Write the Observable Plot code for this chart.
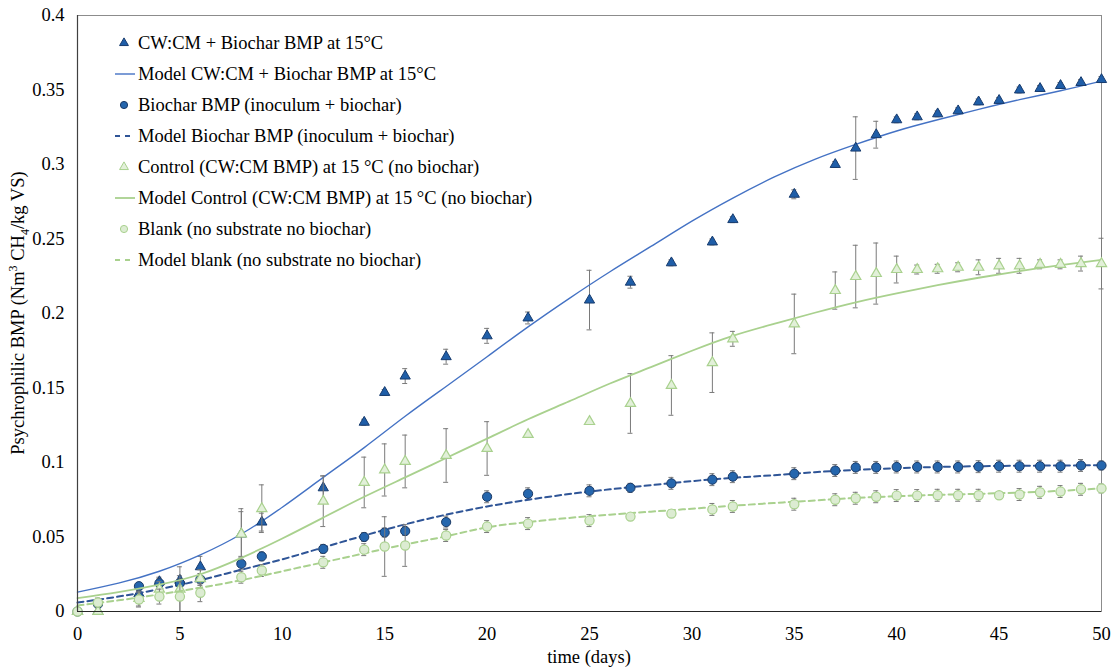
<!DOCTYPE html>
<html>
<head>
<meta charset="utf-8">
<script src="https://cdn.jsdelivr.net/npm/d3@7"></script>
<script src="https://cdn.jsdelivr.net/npm/@observablehq/plot@0.6"></script>
<style>
  body { margin: 0; background: #fff; }
  #chart { position: relative; width: 1119px; height: 670px; font-family: "Liberation Serif", "Times New Roman", serif; }
  #overlay { position: absolute; left: 0; top: 0; pointer-events: none; }
</style>
</head>
<body>
<div id="chart"></div>
<script>
// Sampling days (days of incubation)
const days = [0, 1, 3, 4, 5, 6, 8, 9, 12, 14, 15, 16, 18, 20, 22, 25, 27, 29, 31, 32, 35, 37, 38, 39, 40, 41, 42, 43, 44, 45, 46, 47, 48, 49, 50];

// CW:CM + Biochar BMP at 15°C (Nm3 CH4/kg VS) and standard deviation
const biocharDigest = [0, 0, 0.012, 0.020, 0.021, 0.030, 0.052, 0.060, 0.083, 0.127, 0.147, 0.158, 0.171, 0.185, 0.197, 0.209, 0.221, 0.234, 0.248, 0.263, 0.280, 0.300, 0.311, 0.320, 0.330, 0.332, 0.334, 0.336, 0.342, 0.343, 0.350, 0.351, 0.353, 0.355, 0.357];
const biocharDigestSd = [0, 0, 0.002, 0.003, 0.003, 0.007, 0.015, 0.006, 0.008, 0.002, 0.002, 0.005, 0.005, 0.005, 0.004, 0.020, 0.004, 0.002, 0.002, 0.002, 0.003, 0.002, 0.021, 0.009, 0.002, 0.002, 0.002, 0.002, 0.002, 0.002, 0.002, 0.002, 0.002, 0.002, 0.002];

// Biochar BMP (inoculum + biochar)
const biocharOnly = [0, 0.005, 0.017, 0.019, 0.019, 0.0215, 0.032, 0.037, 0.042, 0.050, 0.053, 0.054, 0.060, 0.077, 0.079, 0.081, 0.083, 0.086, 0.0885, 0.0905, 0.0925, 0.0946, 0.0967, 0.0967, 0.097, 0.097, 0.097, 0.097, 0.0972, 0.0975, 0.0975, 0.0975, 0.0975, 0.098, 0.098];
const biocharOnlySd = [0, 0.001, 0.002, 0.003, 0.003, 0.004, 0.004, 0.003, 0.003, 0.003, 0.003, 0.003, 0.004, 0.004, 0.004, 0.004, 0.003, 0.004, 0.004, 0.004, 0.004, 0.004, 0.004, 0.004, 0.004, 0.004, 0.004, 0.004, 0.004, 0.004, 0.004, 0.004, 0.004, 0.004, 0.003];

// Control (CW:CM BMP) at 15 °C (no biochar)
const control = [0, 0, 0.0087, 0.015, 0.015, 0.022, 0.052, 0.069, 0.074, 0.0866, 0.095, 0.1007, 0.1047, 0.1094, 0.1188, 0.1275, 0.1396, 0.1517, 0.167, 0.183, 0.193, 0.2154, 0.2248, 0.2268, 0.2295, 0.2295, 0.230, 0.231, 0.231, 0.232, 0.232, 0.233, 0.233, 0.2335, 0.2335];
const controlSd = [0, 0, 0.005, 0.005, 0.015, 0.006, 0.017, 0.016, 0.017, 0.017, 0.0175, 0.0177, 0.018, 0.018, 0, 0, 0.020, 0.020, 0.020, 0.005, 0.020, 0.0125, 0.021, 0.0205, 0.009, 0.003, 0.003, 0.003, 0.005, 0.005, 0.005, 0.003, 0.003, 0.005, 0.017];

// Blank (no substrate no biochar)
const blank = [0, 0.006, 0.008, 0.010, 0.010, 0.0126, 0.023, 0.0275, 0.033, 0.0415, 0.0436, 0.0443, 0.051, 0.057, 0.059, 0.061, 0.0637, 0.0657, 0.0685, 0.0705, 0.072, 0.075, 0.076, 0.077, 0.0778, 0.0778, 0.078, 0.078, 0.078, 0.078, 0.0785, 0.080, 0.0805, 0.082, 0.0826];
const blankSd = [0, 0.003, 0.005, 0.005, 0.010, 0.006, 0.004, 0.004, 0.004, 0.004, 0.020, 0.014, 0.004, 0.004, 0.004, 0.004, 0.002, 0.002, 0.004, 0.004, 0.004, 0.004, 0.004, 0.004, 0.004, 0.004, 0.004, 0.004, 0.004, 0.002, 0.004, 0.004, 0.004, 0.004, 0.003];

// Fitted model curves, sampled every 2 days
const modelDays = [0, 2, 4, 6, 8, 10, 12, 14, 16, 18, 20, 22, 24, 26, 28, 30, 32, 34, 36, 38, 40, 42, 44, 46, 48, 50];
const modelBiocharDigest = [0.013, 0.019, 0.027, 0.038, 0.052, 0.070, 0.090, 0.110, 0.131, 0.151, 0.171, 0.191, 0.210, 0.228, 0.245, 0.262, 0.2775, 0.2915, 0.3035, 0.3135, 0.3225, 0.330, 0.337, 0.3435, 0.3495, 0.356];
const modelBiocharOnly = [0.006, 0.010, 0.015, 0.021, 0.028, 0.035, 0.043, 0.051, 0.0585, 0.065, 0.0705, 0.075, 0.0788, 0.082, 0.0848, 0.0875, 0.0897, 0.0915, 0.0935, 0.095, 0.0962, 0.097, 0.0975, 0.0978, 0.098, 0.0982];
const modelControl = [0.009, 0.013, 0.018, 0.025, 0.036, 0.049, 0.063, 0.077, 0.090, 0.103, 0.116, 0.129, 0.141, 0.153, 0.164, 0.175, 0.185, 0.193, 0.2005, 0.2075, 0.2135, 0.219, 0.224, 0.2285, 0.2325, 0.236];
const modelBlank = [0.004, 0.0075, 0.0115, 0.016, 0.021, 0.027, 0.033, 0.039, 0.045, 0.0505, 0.0565, 0.060, 0.0628, 0.065, 0.067, 0.069, 0.071, 0.0728, 0.0745, 0.0762, 0.0774, 0.0783, 0.079, 0.0798, 0.081, 0.0826];

// Axis ticks
const xTicks = [0, 5, 10, 15, 20, 25, 30, 35, 40, 45, 50];
const yTicks = [0, 0.05, 0.1, 0.15, 0.2, 0.25, 0.3, 0.35, 0.4];
const yTickLabels = ["0", "0.05", "0.1", "0.15", "0.2", "0.25", "0.3", "0.35", "0.4"];

// Legend entries
const legendLabels = [
  "CW:CM + Biochar BMP at 15°C",
  "Model CW:CM + Biochar BMP at 15°C",
  "Biochar BMP (inoculum + biochar)",
  "Model Biochar BMP (inoculum + biochar)",
  "Control (CW:CM BMP) at 15 °C (no biochar)",
  "Model Control (CW:CM BMP) at 15 °C (no biochar)",
  "Blank (no substrate no biochar)",
  "Model blank (no substrate no biochar)"
];

// Styling
const C = {
  triFill: "#1f5ea8", triStroke: "#173b6e",
  blueLine: "#4472c4",
  circFill: "#2566ad", circStroke: "#1b3a66",
  blueDash: "#2f5597",
  greenTriFill: "#e2f0d9", greenStroke: "#a9d18e",
  greenLine: "#a9d18e",
  blankFill: "#dcecd2",
  err: "#7a7a7a"
};

const toRows = (vals, sds) => days.map((d, i) => ({day: d, value: vals[i], sd: sds[i]}));
const toModel = (vals) => modelDays.map((d, i) => ({day: d, value: vals[i]}));

const sBiocharDigest = toRows(biocharDigest, biocharDigestSd);
const sBiocharOnly = toRows(biocharOnly, biocharOnlySd);
const sControl = toRows(control, controlSd);
const sBlank = toRows(blank, blankSd);

function errorBars(rows) {
  const withSd = rows.filter(d => d.sd > 0);
  return [
    Plot.ruleX(withSd, {x: "day", y1: d => d.value - d.sd, y2: d => d.value + d.sd, stroke: C.err, strokeWidth: 1}),
    Plot.ruleY(withSd, {y: d => d.value + d.sd, x1: "day", x2: "day", insetLeft: -2.5, insetRight: -2.5, stroke: C.err, strokeWidth: 1}),
    Plot.ruleY(withSd, {y: d => d.value - d.sd, x1: "day", x2: "day", insetLeft: -2.5, insetRight: -2.5, stroke: C.err, strokeWidth: 1})
  ];
}

const chart = Plot.plot({
  width: 1119,
  height: 670,
  marginLeft: 77,
  marginRight: 18,
  marginTop: 15,
  marginBottom: 59,
  style: {fontFamily: '"Liberation Serif", "Times New Roman", serif', fontSize: "18.5px", color: "#000", background: "#fff"},
  x: {domain: [0, 50]},
  y: {domain: [0, 0.4]},
  marks: [
    Plot.frame({stroke: "#8c8c8c", strokeWidth: 1}),
    Plot.axisX({ticks: xTicks, tickSize: 0, tickPadding: 15, label: null, tickFormat: d => String(d)}),
    Plot.axisY({ticks: yTicks, tickSize: 0, tickPadding: 13, label: null, tickFormat: (d, i) => yTickLabels[i]}),

    // CW:CM + biochar
    ...errorBars(sBiocharDigest),
    Plot.line(toModel(modelBiocharDigest), {x: "day", y: "value", stroke: C.blueLine, strokeWidth: 1.4, curve: "natural"}),
    Plot.dot(sBiocharDigest, {x: "day", y: "value", symbol: "triangle", r: 3.8, fill: C.triFill, stroke: C.triStroke, strokeWidth: 1}),

    // Biochar only
    ...errorBars(sBiocharOnly),
    Plot.line(toModel(modelBiocharOnly), {x: "day", y: "value", stroke: C.blueDash, strokeWidth: 2, strokeDasharray: "6,4", curve: "natural"}),
    Plot.dot(sBiocharOnly, {x: "day", y: "value", symbol: "circle", r: 4.6, fill: C.circFill, stroke: C.circStroke, strokeWidth: 1}),

    // Control
    ...errorBars(sControl),
    Plot.line(toModel(modelControl), {x: "day", y: "value", stroke: C.greenLine, strokeWidth: 1.8, curve: "natural"}),
    Plot.dot(sControl, {x: "day", y: "value", symbol: "triangle", r: 3.8, fill: C.greenTriFill, stroke: C.greenStroke, strokeWidth: 1.2}),

    // Blank
    ...errorBars(sBlank),
    Plot.line(toModel(modelBlank), {x: "day", y: "value", stroke: C.greenLine, strokeWidth: 2, strokeDasharray: "6,4", curve: "natural"}),
    Plot.dot(sBlank, {x: "day", y: "value", symbol: "circle", r: 4.6, fill: C.blankFill, stroke: C.greenStroke, strokeWidth: 1.2}),

    // Left and bottom axis lines
    Plot.ruleX([0], {stroke: "#404040", strokeWidth: 1.2}),
    Plot.ruleY([0], {stroke: "#262626", strokeWidth: 1.2})
  ]
});

const host = document.getElementById("chart");
host.appendChild(chart);

// Overlay: axis titles and the legend
const svg = d3.select(host).append("svg")
  .attr("id", "overlay")
  .attr("width", 1119).attr("height", 670)
  .style("font-family", '"Liberation Serif", "Times New Roman", serif')
  .style("font-size", "18.5px");

svg.append("text")
  .attr("x", 589).attr("y", 663)
  .attr("text-anchor", "middle")
  .text("time (days)");

const yTitle = svg.append("text")
  .attr("transform", "translate(24,313) rotate(-90)")
  .attr("text-anchor", "middle");
yTitle.append("tspan").text("Psychrophilic BMP (Nm");
yTitle.append("tspan").attr("dy", -7).attr("font-size", "12px").text("3");
yTitle.append("tspan").attr("dy", 7).text(" CH");
yTitle.append("tspan").attr("dy", 5).attr("font-size", "12px").text("4");
yTitle.append("tspan").attr("dy", -5).text("/kg VS)");

const legendKeys = [
  {type: "tri", fill: C.triFill, stroke: C.triStroke},
  {type: "line", stroke: C.blueLine, width: 1.4},
  {type: "circ", fill: C.circFill, stroke: C.circStroke},
  {type: "dash", stroke: C.blueDash, width: 2},
  {type: "tri", fill: C.greenTriFill, stroke: C.greenStroke},
  {type: "line", stroke: C.greenLine, width: 1.8},
  {type: "circ", fill: C.blankFill, stroke: C.greenStroke},
  {type: "dash", stroke: C.greenLine, width: 2}
];

const legend = svg.append("g");
legendLabels.forEach((label, i) => {
  const k = legendKeys[i];
  const g = legend.append("g").attr("transform", `translate(0,${43 + i * 31})`);
  if (k.type === "tri") {
    g.append("path").attr("d", d3.symbol(d3.symbolTriangle, 34)()).attr("transform", "translate(124,0)")
      .attr("fill", k.fill).attr("stroke", k.stroke).attr("stroke-width", 1);
  } else if (k.type === "circ") {
    g.append("circle").attr("cx", 124).attr("cy", 0).attr("r", 3.6)
      .attr("fill", k.fill).attr("stroke", k.stroke).attr("stroke-width", 1);
  } else {
    g.append("line").attr("x1", 115).attr("x2", 135).attr("y1", 0).attr("y2", 0)
      .attr("stroke", k.stroke).attr("stroke-width", k.width)
      .attr("stroke-dasharray", k.type === "dash" ? "5,5" : null);
  }
  g.append("text").attr("x", 138).attr("y", 0).attr("dy", "0.33em").text(label);
});
</script>
</body>
</html>
